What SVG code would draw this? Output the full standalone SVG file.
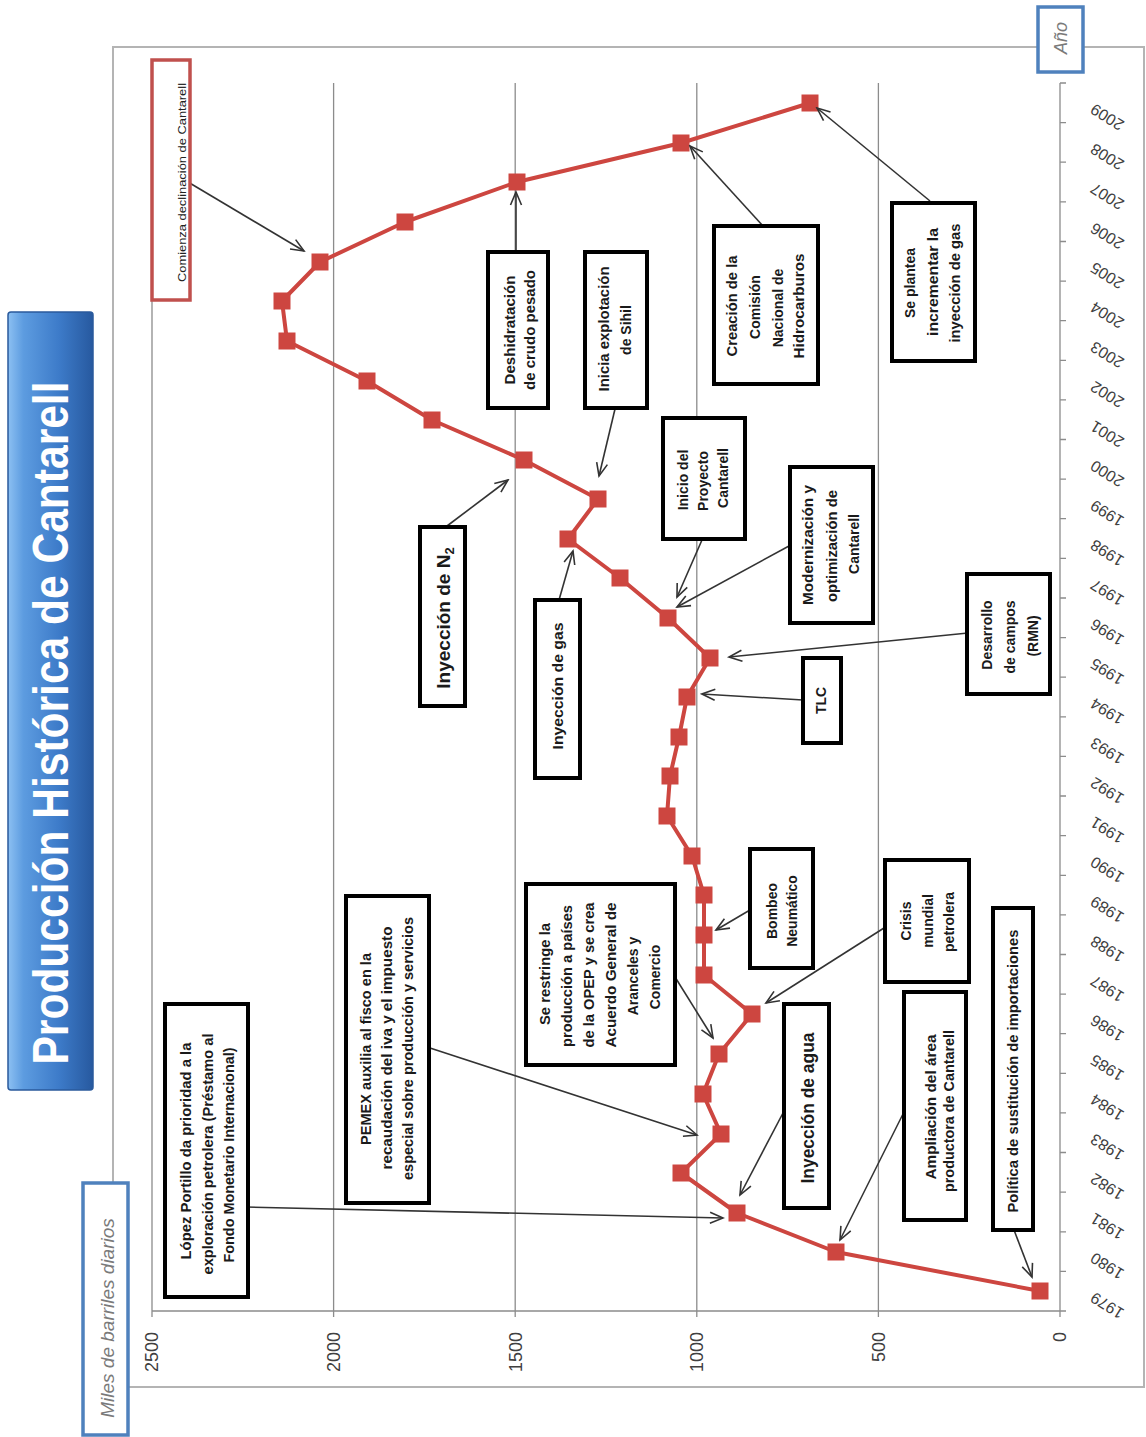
<svg xmlns="http://www.w3.org/2000/svg" width="1146" height="1437" viewBox="0 0 1146 1437">
<defs>
<linearGradient id="tg" x1="0" y1="0" x2="1" y2="0">
<stop offset="0" stop-color="#8cc0f2"/>
<stop offset="0.18" stop-color="#5d9ce0"/>
<stop offset="0.6" stop-color="#3d7bc9"/>
<stop offset="1" stop-color="#27599f"/>
</linearGradient>
<marker id="arr" markerUnits="userSpaceOnUse" markerWidth="16" markerHeight="14" refX="14" refY="7" orient="auto">
<path d="M1,1.5 L14,7 L1,12.5" fill="none" stroke="#333" stroke-width="1.6"/>
</marker>
<style>
.frame{fill:#fff;stroke:#b4b4b4;stroke-width:2}
.grid{stroke:#8c8c8c;stroke-width:1.3;fill:none}
.box rect{fill:#fff;stroke:#000;stroke-width:4}
.box text{font-family:"Liberation Sans",Arial,sans-serif;font-weight:bold;font-size:14px;fill:#1a1a1a;text-anchor:middle}
.big text{font-size:19px}
.conn line{stroke:#333;stroke-width:1.6;marker-end:url(#arr)}
.yr{font-family:"Liberation Sans",Arial,sans-serif;font-size:16px;fill:#404040;text-anchor:end}
.val{font-family:"Liberation Sans",Arial,sans-serif;font-size:18px;fill:#404040;text-anchor:end}
.axt{font-family:"Liberation Sans",Arial,sans-serif;font-style:italic;fill:#7a7a7a;text-anchor:middle}
.blue rect{fill:#fff;stroke:#4f81bd;stroke-width:3.5}
.mk{fill:#cd4640}
</style>
</defs>
<rect width="1146" height="1437" fill="#fff"/>

<!-- title -->
<g id="title">
<rect x="8" y="312" width="85" height="778" rx="3" fill="url(#tg)" stroke="#2a5a9c" stroke-width="1.5"/>
<text transform="translate(68,723) rotate(-90)" text-anchor="middle" font-family="Liberation Sans, Arial, sans-serif" font-weight="bold" font-size="50" fill="#fff" textLength="683" lengthAdjust="spacingAndGlyphs">Producción Histórica de Cantarell</text>
</g>

<!-- chart frame -->
<rect class="frame" x="113" y="47" width="1031" height="1340"/>

<!-- grid / axes -->
<g id="axes">
<path class="grid" d="M152,83V1311 M333.6,83V1311 M515.2,83V1311 M696.8,83V1311 M878.4,83V1311 M152,1311H1060 M1060,83V1311"/>
<path class="grid" d="M152,1311v6 M333.6,1311v6 M515.2,1311v6 M696.8,1311v6 M878.4,1311v6 M1060,1311v6"/>
<path class="grid" d="M1060,1311h6 M1060,1271.4h6 M1060,1231.8h6 M1060,1192.2h6 M1060,1152.5h6 M1060,1112.9h6 M1060,1073.3h6 M1060,1033.7h6 M1060,994.1h6 M1060,954.5h6 M1060,914.9h6 M1060,875.3h6 M1060,835.6h6 M1060,796h6 M1060,756.4h6 M1060,716.8h6 M1060,677.2h6 M1060,637.6h6 M1060,598h6 M1060,558.4h6 M1060,518.7h6 M1060,479.1h6 M1060,439.5h6 M1060,399.9h6 M1060,360.3h6 M1060,320.7h6 M1060,281.1h6 M1060,241.5h6 M1060,201.8h6 M1060,162.2h6 M1060,122.6h6 M1060,83h6"/>
<g class="val">
<text transform="translate(152,1332) rotate(-90)" dy="0.35em">2500</text>
<text transform="translate(333.6,1332) rotate(-90)" dy="0.35em">2000</text>
<text transform="translate(515.2,1332) rotate(-90)" dy="0.35em">1500</text>
<text transform="translate(696.8,1332) rotate(-90)" dy="0.35em">1000</text>
<text transform="translate(878.4,1332) rotate(-90)" dy="0.35em">500</text>
<text transform="translate(1060,1332) rotate(-90)" dy="0.35em">0</text>
</g>
<g class="yr">
<text transform="translate(1092,1296.2) rotate(212)" dy="0.35em">1979</text>
<text transform="translate(1092,1256.6) rotate(212)" dy="0.35em">1980</text>
<text transform="translate(1092,1217) rotate(212)" dy="0.35em">1981</text>
<text transform="translate(1092,1177.4) rotate(212)" dy="0.35em">1982</text>
<text transform="translate(1092,1137.8) rotate(212)" dy="0.35em">1983</text>
<text transform="translate(1092,1098.1) rotate(212)" dy="0.35em">1984</text>
<text transform="translate(1092,1058.5) rotate(212)" dy="0.35em">1985</text>
<text transform="translate(1092,1018.9) rotate(212)" dy="0.35em">1986</text>
<text transform="translate(1092,979.3) rotate(212)" dy="0.35em">1987</text>
<text transform="translate(1092,939.7) rotate(212)" dy="0.35em">1988</text>
<text transform="translate(1092,900.1) rotate(212)" dy="0.35em">1989</text>
<text transform="translate(1092,860.5) rotate(212)" dy="0.35em">1990</text>
<text transform="translate(1092,820.9) rotate(212)" dy="0.35em">1991</text>
<text transform="translate(1092,781.3) rotate(212)" dy="0.35em">1992</text>
<text transform="translate(1092,741.6) rotate(212)" dy="0.35em">1993</text>
<text transform="translate(1092,702) rotate(212)" dy="0.35em">1994</text>
<text transform="translate(1092,662.4) rotate(212)" dy="0.35em">1995</text>
<text transform="translate(1092,622.8) rotate(212)" dy="0.35em">1996</text>
<text transform="translate(1092,583.2) rotate(212)" dy="0.35em">1997</text>
<text transform="translate(1092,543.6) rotate(212)" dy="0.35em">1998</text>
<text transform="translate(1092,504) rotate(212)" dy="0.35em">1999</text>
<text transform="translate(1092,464.4) rotate(212)" dy="0.35em">2000</text>
<text transform="translate(1092,424.8) rotate(212)" dy="0.35em">2001</text>
<text transform="translate(1092,385.2) rotate(212)" dy="0.35em">2002</text>
<text transform="translate(1092,345.5) rotate(212)" dy="0.35em">2003</text>
<text transform="translate(1092,305.9) rotate(212)" dy="0.35em">2004</text>
<text transform="translate(1092,266.3) rotate(212)" dy="0.35em">2005</text>
<text transform="translate(1092,226.7) rotate(212)" dy="0.35em">2006</text>
<text transform="translate(1092,187.1) rotate(212)" dy="0.35em">2007</text>
<text transform="translate(1092,147.5) rotate(212)" dy="0.35em">2008</text>
<text transform="translate(1092,107.9) rotate(212)" dy="0.35em">2009</text>
</g>
</g>

<!-- axis titles -->
<g id="ytitle" class="blue">
<rect x="83" y="1183" width="45" height="252"/>
<text class="axt" font-size="19" transform="translate(107.5,1318) rotate(-90)" dy="0.35em">Miles de barriles  diarios</text>
</g>
<g id="xtitle" class="blue">
<rect x="1038" y="7" width="45" height="65"/>
<text class="axt" font-size="18" transform="translate(1061,38) rotate(-90)" dy="0.35em">Año</text>
</g>

<!-- series -->
<g id="series">
<polyline fill="none" stroke="#cd4640" stroke-width="4" stroke-linejoin="round" points="1040,1291 836,1252 737,1213 681,1173 721,1134 703,1094 719,1054 752,1014 704,975 704,935 704,895 692,856 667,816 670,776 679,737 687,697 710,658 668,618 620,578 568,539 598,499 524,460 432,420 367,381 287,341 282,301 320,262 405,222 517,182 681,143 810,103"/>
<g class="mk">
<rect x="1031.5" y="1282.5" width="17" height="17"/>
<rect x="827.5" y="1243.5" width="17" height="17"/>
<rect x="728.5" y="1204.5" width="17" height="17"/>
<rect x="672.5" y="1164.5" width="17" height="17"/>
<rect x="712.5" y="1125.5" width="17" height="17"/>
<rect x="694.5" y="1085.5" width="17" height="17"/>
<rect x="710.5" y="1045.5" width="17" height="17"/>
<rect x="743.5" y="1005.5" width="17" height="17"/>
<rect x="695.5" y="966.5" width="17" height="17"/>
<rect x="695.5" y="926.5" width="17" height="17"/>
<rect x="695.5" y="886.5" width="17" height="17"/>
<rect x="683.5" y="847.5" width="17" height="17"/>
<rect x="658.5" y="807.5" width="17" height="17"/>
<rect x="661.5" y="767.5" width="17" height="17"/>
<rect x="670.5" y="728.5" width="17" height="17"/>
<rect x="678.5" y="688.5" width="17" height="17"/>
<rect x="701.5" y="649.5" width="17" height="17"/>
<rect x="659.5" y="609.5" width="17" height="17"/>
<rect x="611.5" y="569.5" width="17" height="17"/>
<rect x="559.5" y="530.5" width="17" height="17"/>
<rect x="589.5" y="490.5" width="17" height="17"/>
<rect x="515.5" y="451.5" width="17" height="17"/>
<rect x="423.5" y="411.5" width="17" height="17"/>
<rect x="358.5" y="372.5" width="17" height="17"/>
<rect x="278.5" y="332.5" width="17" height="17"/>
<rect x="273.5" y="292.5" width="17" height="17"/>
<rect x="311.5" y="253.5" width="17" height="17"/>
<rect x="396.5" y="213.5" width="17" height="17"/>
<rect x="508.5" y="173.5" width="17" height="17"/>
<rect x="672.5" y="134.5" width="17" height="17"/>
<rect x="801.5" y="94.5" width="17" height="17"/>
</g>
</g>

<!-- connectors -->
<g id="connectors" class="conn">
<line x1="188" y1="182" x2="304" y2="251"/>
<line x1="246" y1="1207" x2="723" y2="1218"/>
<line x1="430" y1="1048" x2="697" y2="1135"/>
<line x1="675" y1="977" x2="713" y2="1038"/>
<line x1="750" y1="910" x2="716" y2="930"/>
<line x1="884" y1="928" x2="766" y2="1003"/>
<line x1="783" y1="1113" x2="740" y2="1195"/>
<line x1="904" y1="1112" x2="840" y2="1240"/>
<line x1="1014" y1="1230" x2="1032" y2="1277"/>
<line x1="447" y1="526" x2="508" y2="480"/>
<line x1="516" y1="252" x2="516" y2="192"/>
<line x1="615" y1="409" x2="599" y2="476"/>
<line x1="559" y1="600" x2="573" y2="551"/>
<line x1="702" y1="540" x2="677" y2="597"/>
<line x1="789" y1="546" x2="677" y2="607"/>
<line x1="803" y1="700" x2="702" y2="694"/>
<line x1="968" y1="633" x2="729" y2="657"/>
<line x1="763" y1="226" x2="690" y2="146"/>
<line x1="930" y1="201" x2="817" y2="108"/>
</g>

<!-- red annotation -->
<g id="n-comienza">
<rect x="152" y="60" width="38" height="240" fill="#fff" stroke="#c0504d" stroke-width="3.5"/>
<text transform="translate(181.5,182.5) rotate(-90)" dy="0.35em" text-anchor="middle" font-family="Liberation Sans, Arial, sans-serif" font-size="11.5" fill="#222" textLength="199" lengthAdjust="spacingAndGlyphs">Comienza declinación de Cantarell</text>
</g>

<!-- annotation boxes -->
<g id="n-lopez" class="box">
<rect x="165" y="1004" width="83" height="293"/>
<text transform="translate(186,1151) rotate(-90)" dy="0.35em" textLength="217" lengthAdjust="spacingAndGlyphs">López Portillo da prioridad a la</text>
<text transform="translate(208,1154) rotate(-90)" dy="0.35em" textLength="241" lengthAdjust="spacingAndGlyphs">exploración petrolera (Préstamo al</text>
<text transform="translate(229,1155) rotate(-90)" dy="0.35em" textLength="215" lengthAdjust="spacingAndGlyphs">Fondo Monetario Internacional)</text>
</g>
<g id="n-pemex" class="box">
<rect x="346" y="896" width="83" height="307"/>
<text transform="translate(366,1049) rotate(-90)" dy="0.35em" textLength="192" lengthAdjust="spacingAndGlyphs">PEMEX auxilia al fisco en la</text>
<text transform="translate(387.5,1048) rotate(-90)" dy="0.35em" textLength="243" lengthAdjust="spacingAndGlyphs">recaudación del iva y el impuesto</text>
<text transform="translate(408,1048.5) rotate(-90)" dy="0.35em" textLength="263" lengthAdjust="spacingAndGlyphs">especial sobre producción y servicios</text>
</g>
<g id="n-opep" class="box">
<rect x="526" y="884" width="149" height="181"/>
<text transform="translate(545,974) rotate(-90)" dy="0.35em" textLength="102" lengthAdjust="spacingAndGlyphs">Se restringe la</text>
<text transform="translate(567.5,976) rotate(-90)" dy="0.35em" textLength="142" lengthAdjust="spacingAndGlyphs">producción a países</text>
<text transform="translate(589.5,975) rotate(-90)" dy="0.35em" textLength="145" lengthAdjust="spacingAndGlyphs">de la OPEP y se crea</text>
<text transform="translate(611,975) rotate(-90)" dy="0.35em" textLength="145" lengthAdjust="spacingAndGlyphs">Acuerdo General de</text>
<text transform="translate(633,976) rotate(-90)" dy="0.35em">Aranceles y</text>
<text transform="translate(655,977) rotate(-90)" dy="0.35em">Comercio</text>
</g>
<g id="n-bombeo" class="box">
<rect x="750" y="849" width="63" height="119"/>
<text transform="translate(772,911) rotate(-90)" dy="0.35em">Bombeo</text>
<text transform="translate(792,911) rotate(-90)" dy="0.35em">Neumático</text>
</g>
<g id="n-crisis" class="box">
<rect x="885" y="860" width="84" height="122"/>
<text transform="translate(906,921) rotate(-90)" dy="0.35em">Crisis</text>
<text transform="translate(928,921) rotate(-90)" dy="0.35em">mundial</text>
<text transform="translate(949,922) rotate(-90)" dy="0.35em">petrolera</text>
</g>
<g id="n-agua" class="box big">
<rect x="784" y="1004" width="45" height="204"/>
<text transform="translate(807,1108) rotate(-90)" dy="0.35em" textLength="151" lengthAdjust="spacingAndGlyphs">Inyección de agua</text>
</g>
<g id="n-ampliacion" class="box">
<rect x="904" y="992" width="62" height="228"/>
<text transform="translate(931.5,1107) rotate(-90)" dy="0.35em" textLength="145" lengthAdjust="spacingAndGlyphs">Ampliación del área</text>
<text transform="translate(949.5,1111) rotate(-90)" dy="0.35em" textLength="162" lengthAdjust="spacingAndGlyphs">productora de Cantarell</text>
</g>
<g id="n-politica" class="box">
<rect x="993" y="908" width="40" height="322"/>
<text transform="translate(1013,1071) rotate(-90)" dy="0.35em" textLength="283" lengthAdjust="spacingAndGlyphs">Política de sustitución de importaciones</text>
</g>
<g id="n-n2" class="box big">
<rect x="420" y="527" width="45" height="179"/>
<text transform="translate(443,618) rotate(-90)" dy="0.35em">Inyección de N<tspan font-size="13" dy="4">2</tspan></text>
</g>
<g id="n-deshidratacion" class="box">
<rect x="488" y="252" width="60" height="156"/>
<text transform="translate(510,330) rotate(-90)" dy="0.35em" textLength="109" lengthAdjust="spacingAndGlyphs">Deshidratación</text>
<text transform="translate(530,330) rotate(-90)" dy="0.35em" textLength="120" lengthAdjust="spacingAndGlyphs">de crudo pesado</text>
</g>
<g id="n-sihil" class="box">
<rect x="585" y="252" width="62" height="156"/>
<text transform="translate(604,329) rotate(-90)" dy="0.35em" textLength="125" lengthAdjust="spacingAndGlyphs">Inicia explotación</text>
<text transform="translate(626,330) rotate(-90)" dy="0.35em">de Sihil</text>
</g>
<g id="n-gas" class="box">
<rect x="535" y="600" width="45" height="178"/>
<text transform="translate(558,686) rotate(-90)" dy="0.35em" font-size="18" textLength="127" lengthAdjust="spacingAndGlyphs">Inyección de gas</text>
</g>
<g id="n-inicio" class="box">
<rect x="663" y="418" width="82" height="121"/>
<text transform="translate(683,480) rotate(-90)" dy="0.35em">Inicio del</text>
<text transform="translate(703,481) rotate(-90)" dy="0.35em">Proyecto</text>
<text transform="translate(723,478) rotate(-90)" dy="0.35em">Cantarell</text>
</g>
<g id="n-modernizacion" class="box">
<rect x="790" y="467" width="83" height="156"/>
<text transform="translate(808,545) rotate(-90)" dy="0.35em" textLength="120" lengthAdjust="spacingAndGlyphs">Modernización y</text>
<text transform="translate(832,546) rotate(-90)" dy="0.35em" textLength="112" lengthAdjust="spacingAndGlyphs">optimización de</text>
<text transform="translate(854,544) rotate(-90)" dy="0.35em">Cantarell</text>
</g>
<g id="n-tlc" class="box">
<rect x="803" y="658" width="38" height="85"/>
<text transform="translate(821,700.5) rotate(-90)" dy="0.35em">TLC</text>
</g>
<g id="n-desarrollo" class="box">
<rect x="967" y="574" width="83" height="120"/>
<text transform="translate(987,635) rotate(-90)" dy="0.35em">Desarrollo</text>
<text transform="translate(1010,637) rotate(-90)" dy="0.35em">de campos</text>
<text transform="translate(1033,636) rotate(-90)" dy="0.35em">(RMN)</text>
</g>
<g id="n-creacion" class="box">
<rect x="714" y="226" width="104" height="158"/>
<text transform="translate(732,306) rotate(-90)" dy="0.35em" textLength="101" lengthAdjust="spacingAndGlyphs">Creación de la</text>
<text transform="translate(755,307) rotate(-90)" dy="0.35em">Comisión</text>
<text transform="translate(778,308) rotate(-90)" dy="0.35em">Nacional de</text>
<text transform="translate(799,306) rotate(-90)" dy="0.35em" textLength="105" lengthAdjust="spacingAndGlyphs">Hidrocarburos</text>
</g>
<g id="n-plantea" class="box">
<rect x="892" y="203" width="83" height="158"/>
<text transform="translate(910,283) rotate(-90)" dy="0.35em">Se plantea</text>
<text transform="translate(933,282) rotate(-90)" dy="0.35em" textLength="108" lengthAdjust="spacingAndGlyphs">incrementar la</text>
<text transform="translate(955,283) rotate(-90)" dy="0.35em" textLength="119" lengthAdjust="spacingAndGlyphs">inyección de gas</text>
</g>
</svg>
